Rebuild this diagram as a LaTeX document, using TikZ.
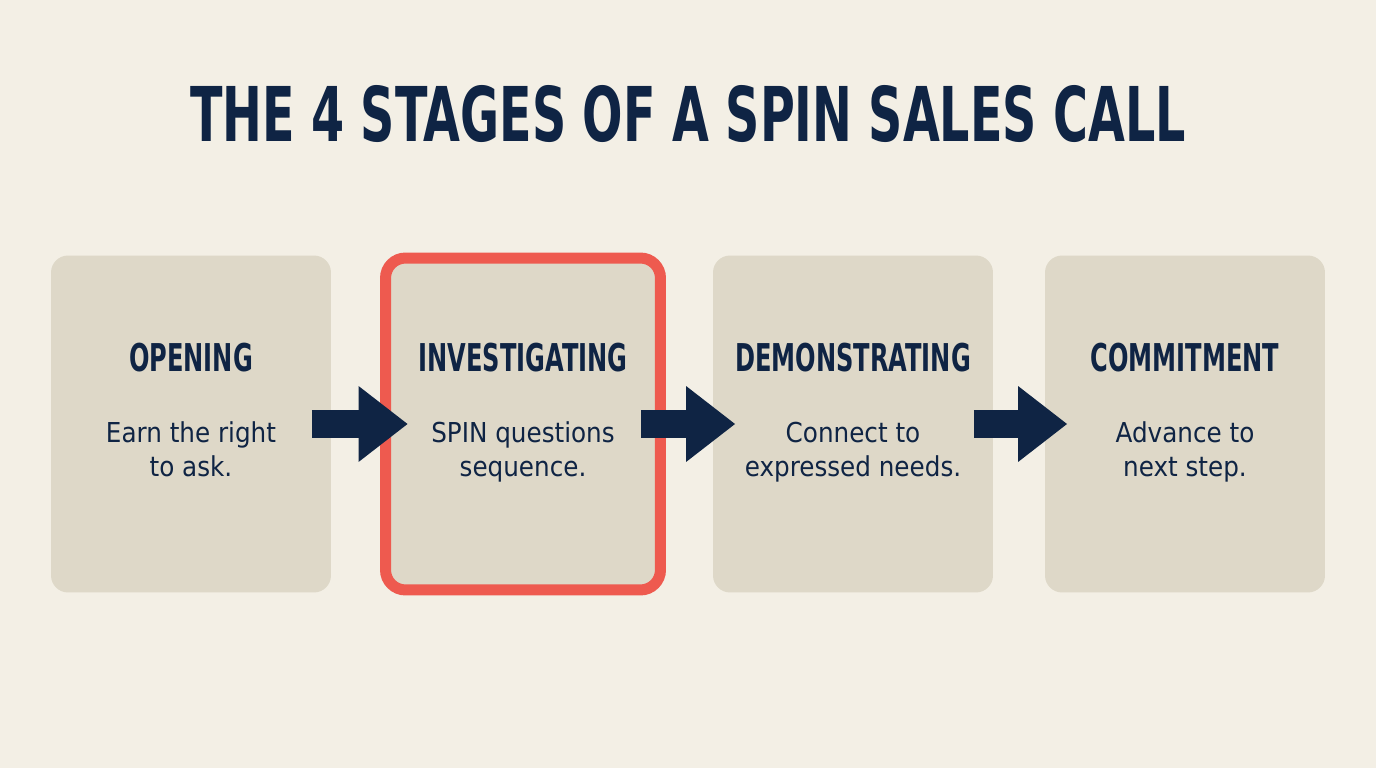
\documentclass[tikz,border=0pt]{standalone}
\usepackage{fontspec}
\setmainfont{DejaVu Sans Condensed}
\newfontfamily\headfont[FakeStretch=0.7]{DejaVu Sans Condensed}
\usepackage{xcolor}
\usetikzlibrary{arrows.meta,positioning,calc}
\definecolor{paper}{HTML}{F3EFE5}
\definecolor{card}{HTML}{DED8C8}
\definecolor{navy}{HTML}{0F2444}
\definecolor{coral}{HTML}{EE5A4F}

\begin{document}
\begin{tikzpicture}[x=0.02cm, y=0.02cm,
    stage/.style={fill=card, rounded corners=0.34cm, minimum width=5.6cm, minimum height=6.74cm, inner sep=0pt, outer sep=0pt},
    stageon/.style={fill=card, draw=coral, line width=0.22cm, rounded corners=0.4cm, minimum width=5.5cm, minimum height=6.64cm, inner sep=0pt, outer sep=0pt},
    title/.style={font=\headfont\bfseries\fontsize{43}{50}\selectfont, text=navy, anchor=base, inner sep=0pt},
    head/.style={font=\headfont\bfseries\fontsize{21.8}{26}\selectfont, text=navy, anchor=base, inner sep=0pt},
    body/.style={font=\fontsize{15.6}{19.9}\selectfont, text=navy, align=center, anchor=base, inner sep=0pt},
    flow/.style={navy, line width=0.58cm, -{Triangle[length=0.98cm, width=1.52cm, line width=0pt]}}
]
\fill[paper] (0,0) rectangle (1376,768);
\useasboundingbox (0,0) rectangle (1376,768);
\node[title] (t) at (688,626) {THE 4 STAGES OF A SPIN SALES CALL};
% the four stages
\node[stage]   (open) at (191,344) {};
\node[stageon] (inv)  at (523,344) {};
\node[stage]   (demo) at (853,344) {};
\node[stage]   (comm) at (1185,344) {};
\node[head] (openh) at (191,396) {OPENING};
\node[head] (invh)  at (523,396) {INVESTIGATING};
\node[head] (demoh) at (853,396) {DEMONSTRATING};
\node[head] (commh) at (1185,396) {COMMITMENT};
\node[body] (opent) at (191,291) {Earn the right\\to ask.};
\node[body] (invt)  at (523,291) {SPIN questions\\sequence.};
\node[body] (demot) at (853,291) {Connect to\\expressed needs.};
\node[body] (commt) at (1185,291) {Advance to\\next step.};
% arrows between stages
\draw[flow] ([xshift=-0.38cm]open.east) -- ([xshift=0.44cm]inv.west);
\draw[flow] ([xshift=-0.38cm]inv.east) -- ([xshift=0.44cm]demo.west);
\draw[flow] ([xshift=-0.38cm]demo.east) -- ([xshift=0.44cm]comm.west);
\end{tikzpicture}
\end{document}
